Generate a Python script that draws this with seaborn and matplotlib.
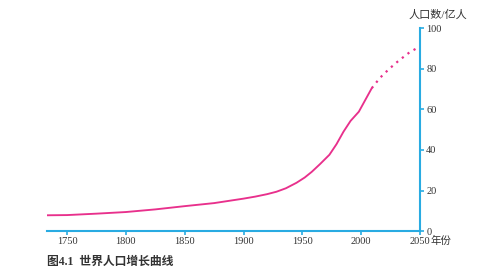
import matplotlib
matplotlib.use("Agg")
import matplotlib.pyplot as plt
import seaborn as sns
import pandas as pd

# Historical data (亿人)
years_hist = [1733, 1750, 1775, 1800, 1825, 1850, 1875, 1900, 1910, 1920, 1928, 1936, 1945,
              1952, 1958, 1965, 1973, 1979, 1985, 1991, 1998, 2009]
pop_hist = [7.8, 7.9, 8.6, 9.4, 10.7, 12.3, 13.8, 16.0, 17.0, 18.2, 19.4, 21.1, 23.8,
            26.4, 29.2, 33.0, 37.6, 42.8, 49.0, 54.3, 58.8, 70.4]
# Projection
years_proj = [2009, 2016, 2024, 2032, 2041, 2050]
pop_proj = [70.4, 75.5, 80.0, 84.0, 88.0, 91.0]

xticks = [1750, 1800, 1850, 1900, 1950, 2000, 2050]
yticks = [0, 20, 40, 60, 80, 100]

sns.set_theme(style="white")
plt.rcParams["font.family"] = ["Liberation Serif", "Noto Sans CJK SC"]

BLUE = "#29abe2"
PINK = "#e8308c"
TXT = "#333333"

fig = plt.figure(figsize=(4.8, 2.7), dpi=100)
ax = fig.add_axes([0.098, 0.144, 0.777, 0.752])

df_h = pd.DataFrame({"year": years_hist, "pop": pop_hist})
df_p = pd.DataFrame({"year": years_proj, "pop": pop_proj})
sns.lineplot(data=df_h, x="year", y="pop", ax=ax, color=PINK, lw=1.35)
sns.lineplot(data=df_p, x="year", y="pop", ax=ax, color=PINK, lw=1.6, linestyle=(0, (1, 2.2)))

ax.set_xlim(1733, 2050)
ax.set_ylim(0, 100)
ax.set_xticks(xticks)
ax.set_yticks(yticks)
ax.yaxis.tick_right()
ax.set_xlabel("")
ax.set_ylabel("")

for s in ["top", "left"]:
    ax.spines[s].set_visible(False)
for s in ["bottom", "right"]:
    ax.spines[s].set_color(BLUE)
    ax.spines[s].set_linewidth(1.5)

ax.tick_params(axis="both", colors=BLUE, labelcolor=TXT, labelsize=7.5,
               length=3, width=1.2, direction="out", pad=1.5)
ax.tick_params(axis="x", bottom=True)
ax.tick_params(axis="y", right=True)

fig.text(0.897, 0.108, "年份", fontsize=7.5, color=TXT, ha="left", va="center")
fig.text(0.913, 0.945, "人口数/亿人", fontsize=8, color=TXT, ha="center", va="center")
fig.text(0.098, 0.03, "图4.1  世界人口增长曲线", fontsize=8.5, fontweight="bold", color=TXT, ha="left", va="center")

fig.savefig("out.png", dpi=100)
